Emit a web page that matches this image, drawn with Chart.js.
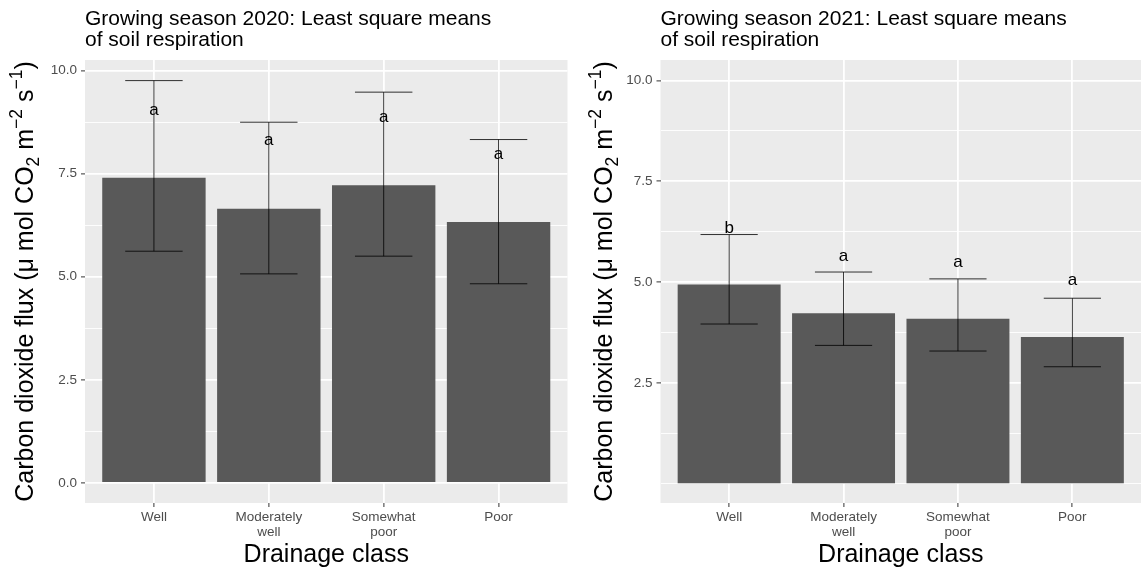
<!DOCTYPE html>
<html>
<head>
<meta charset="utf-8">
<script src="https://cdn.jsdelivr.net/npm/chart.js@4"></script>
<style>
  html, body { margin: 0; padding: 0; background: #fff; }
  #wrap { position: relative; width: 1141px; height: 571px; overflow: hidden; }
  canvas { position: absolute; top: 0; }
</style>
</head>
<body>
<div id="wrap">
  <canvas id="c2020" width="570" height="571" style="left:0"></canvas>
  <canvas id="c2021" width="571" height="571" style="left:570px"></canvas>
</div>
<script>
const categories = [["Well"], ["Moderately", "well"], ["Somewhat", "poor"], ["Poor"]];

// 2020 least square means with confidence limits
const means2020 = [7.40, 6.65, 7.22, 6.33];
const upper2020 = [9.76, 8.75, 9.48, 8.33];
const lower2020 = [5.62, 5.07, 5.50, 4.83];
const letters2020 = ["a", "a", "a", "a"];

// 2021
const means2021 = [4.94, 4.23, 4.09, 3.64];
const upper2021 = [6.18, 5.25, 5.08, 4.60];
const lower2021 = [3.96, 3.43, 3.29, 2.90];
const letters2021 = ["b", "a", "a", "a"];

const yMajor2020 = [0, 2.5, 5, 7.5, 10];
const yMinor2020 = [1.25, 3.75, 6.25, 8.75];
const yMajor2021 = [2.5, 5, 7.5, 10];
const yMinor2021 = [0, 1.25, 3.75, 6.25, 8.75];

const FONT = "'Liberation Sans', Arial, Helvetica, sans-serif";
const TICK_COL = "#4D4D4D";

// y axis title pieces: [text, kind]  kind: n normal, sub, sup
const yTitleParts = [
  ["Carbon dioxide flux (\u03BC mol CO", "n"], ["2", "sub"], [" m", "n"],
  ["\u22122", "sup"], [" s", "n"], ["\u22121", "sup"], [")", "n"]
];

function drawYTitle(ctx, cx, cy, size) {
  const small = size * 0.7;
  let total = 0;
  yTitleParts.forEach(([t, k]) => {
    ctx.font = (k === "n" ? size : small) + "px " + FONT;
    total += ctx.measureText(t).width;
  });
  ctx.save();
  ctx.translate(cx, cy);
  ctx.rotate(-Math.PI / 2);
  ctx.fillStyle = "#000";
  ctx.textBaseline = "alphabetic";
  ctx.textAlign = "left";
  let x = -total / 2;
  const base = size * 0.36;
  yTitleParts.forEach(([t, k]) => {
    ctx.font = (k === "n" ? size : small) + "px " + FONT;
    let dy = 0;
    if (k === "sub") dy = size * 0.25;
    if (k === "sup") dy = -size * 0.45;
    ctx.fillText(t, x, base + dy);
    x += ctx.measureText(t).width;
  });
  ctx.restore();
}

function makeChart(id, o) {
  const yTicks = o.major.concat(o.minor).sort((a, b) => a - b);
  const isMajor = v => o.major.indexOf(v) >= 0;

  const decor = {
    id: "decor",
    beforeDraw(chart) {
      const a = chart.chartArea, ctx = chart.ctx;
      ctx.save();
      ctx.fillStyle = "#EBEBEB";
      ctx.fillRect(a.left, a.top, a.right - a.left, a.bottom - a.top);
      ctx.restore();
    },
    afterDatasetsDraw(chart) {
      const ctx = chart.ctx, xs = chart.scales.x, ys = chart.scales.y;
      const half = xs.getPixelForValue(0.25) - xs.getPixelForValue(0);
      ctx.save();
      ctx.strokeStyle = "rgba(0,0,0,0.8)";
      ctx.lineWidth = 1;
      o.means.forEach((m, i) => {
        const x = xs.getPixelForValue(i);
        const yt = ys.getPixelForValue(o.upper[i]);
        const yb = ys.getPixelForValue(o.lower[i]);
        ctx.beginPath();
        ctx.moveTo(x, yt); ctx.lineTo(x, yb);
        ctx.moveTo(x - half, yt); ctx.lineTo(x + half, yt);
        ctx.moveTo(x - half, yb); ctx.lineTo(x + half, yb);
        ctx.stroke();
      });
      ctx.fillStyle = "#000";
      ctx.font = "17px " + FONT;
      ctx.textAlign = "center";
      ctx.textBaseline = "middle";
      o.means.forEach((m, i) => {
        ctx.fillText(o.letters[i], xs.getPixelForValue(i), ys.getPixelForValue(m + o.letterOffset));
      });
      ctx.restore();
    },
    afterDraw(chart) {
      const a = chart.chartArea, ctx = chart.ctx;
      ctx.save();
      ctx.fillStyle = "#000";
      ctx.textAlign = "left";
      ctx.textBaseline = "alphabetic";
      ctx.font = "21px " + FONT;
      ctx.fillText(o.title[0], a.left, 25);
      ctx.fillText(o.title[1], a.left, 46);
      ctx.textAlign = "center";
      ctx.font = "25px " + FONT;
      ctx.fillText("Drainage class", (a.left + a.right) / 2, 562);
      ctx.restore();
      drawYTitle(ctx, o.yTitleX, (a.top + a.bottom) / 2, 25);
    }
  };

  return new Chart(document.getElementById(id), {
    type: "bar",
    data: {
      datasets: [{
        data: o.means.map((v, i) => ({ x: i, y: v })),
        backgroundColor: "#595959",
        borderWidth: 0,
        barPercentage: 0.9,
        categoryPercentage: 1
      }]
    },
    options: {
      responsive: false,
      animation: false,
      layout: { padding: { top: 60, left: 0, right: o.padRight, bottom: 0 } },
      plugins: { legend: { display: false }, tooltip: { enabled: false }, title: { display: false } },
      scales: {
        x: {
          type: "linear",
          min: -0.6,
          max: 3.6,
          offset: false,
          bounds: "data",
          afterBuildTicks: s => { s.ticks = categories.map((c, i) => ({ value: i })); },
          afterFit: s => { s.height = 68; },
          border: { display: false },
          grid: { offset: false, color: "#FFFFFF", lineWidth: 1.8, tickLength: 4, tickColor: "#333333", tickWidth: 1 },
          ticks: {
            autoSkip: false, maxRotation: 0, padding: 3,
            color: TICK_COL, font: { family: FONT, size: 13.5, lineHeight: 1.1 },
            callback: v => categories[v]
          }
        },
        y: {
          min: o.yMin,
          max: o.yMax,
          bounds: "data",
          afterBuildTicks: s => { s.ticks = yTicks.map(v => ({ value: v })); },
          afterFit: s => { s.width = o.yWidth; },
          border: { display: false },
          grid: {
            color: "#FFFFFF",
            lineWidth: c => isMajor(c.tick.value) ? 1.8 : 0.9,
            tickLength: 4,
            tickColor: c => isMajor(c.tick.value) ? "#333333" : "rgba(0,0,0,0)",
            tickWidth: 1
          },
          ticks: {
            padding: 4, color: TICK_COL, font: { family: FONT, size: 13.5 },
            callback: v => isMajor(v) ? v.toFixed(1) : ""
          }
        }
      }
    },
    plugins: [decor]
  });
}

makeChart("c2020", {
  means: means2020, upper: upper2020, lower: lower2020, letters: letters2020,
  letterOffset: 1.65, major: yMajor2020, minor: yMinor2020,
  yMin: -0.49, yMax: 10.26, yWidth: 85, padRight: 2.5, yTitleX: 24,
  title: ["Growing season 2020: Least square means", "of soil respiration"]
});

makeChart("c2021", {
  means: means2021, upper: upper2021, lower: lower2021, letters: letters2021,
  letterOffset: 1.4, major: yMajor2021, minor: yMinor2021,
  yMin: -0.48, yMax: 10.51, yWidth: 90.5, padRight: 0, yTitleX: 33,
  title: ["Growing season 2021: Least square means", "of soil respiration"]
});
</script>
</body>
</html>
